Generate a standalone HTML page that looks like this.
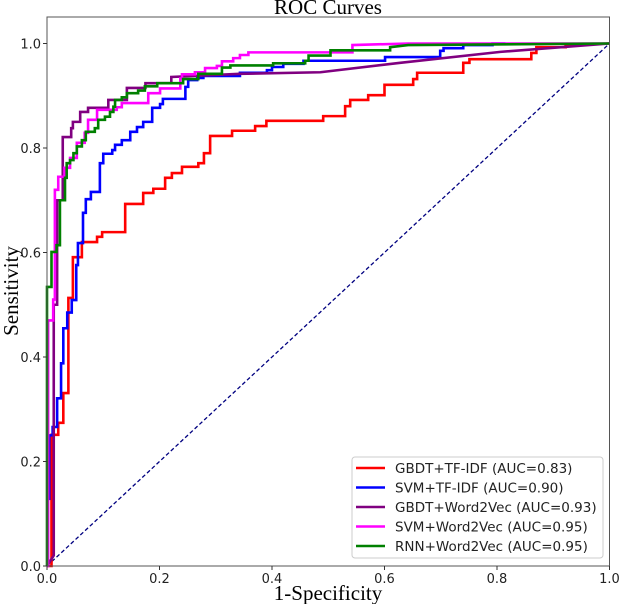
<!DOCTYPE html>
<html><head><meta charset="utf-8"><style>
body{margin:0;background:#fff;}
svg{display:block;}
</style></head><body>
<svg id="chart" width="619" height="604" xmlns="http://www.w3.org/2000/svg">
<g id="plot"></g>
</svg>
<script>
const xTicks=[0,0.2,0.4,0.6,0.8,1.0];
const yTicks=[0,0.2,0.4,0.6,0.8,1.0];
const seriesNames=["GBDT+TF-IDF (AUC=0.83)","SVM+TF-IDF (AUC=0.90)","GBDT+Word2Vec (AUC=0.93)","SVM+Word2Vec (AUC=0.95)","RNN+Word2Vec (AUC=0.95)"];
const seriesColors=["#ff0000","#0000ff","#800080","#ff00ff","#008000"];
const redFpr=[0,0.008,0.008,0.020,0.020,0.029,0.029,0.038,0.038,0.046,0.046,0.062,0.062,0.089,0.089,0.098,0.098,0.139,0.139,0.171,0.171,0.189,0.189,0.210,0.210,0.222,0.222,0.240,0.240,0.269,0.269,0.279,0.279,0.290,0.290,0.329,0.329,0.370,0.370,0.390,0.390,0.491,0.491,0.530,0.530,0.539,0.539,0.571,0.571,0.600,0.600,0.651,0.651,0.658,0.658,0.740,0.740,0.751,0.751,0.861,0.861,0.870,0.870,0.922,0.922,1];
const redTpr=[0,0,0.251,0.251,0.274,0.274,0.331,0.331,0.513,0.513,0.591,0.591,0.620,0.620,0.630,0.630,0.639,0.639,0.693,0.693,0.714,0.714,0.722,0.722,0.743,0.743,0.752,0.752,0.764,0.764,0.771,0.771,0.790,0.790,0.823,0.823,0.833,0.833,0.842,0.842,0.852,0.852,0.861,0.861,0.880,0.880,0.892,0.892,0.901,0.901,0.921,0.921,0.932,0.932,0.944,0.944,0.963,0.963,0.970,0.970,0.982,0.982,0.993,0.993,0.997,1];
const blueFpr=[0.004,0.004,0.010,0.010,0.018,0.018,0.025,0.025,0.029,0.029,0.036,0.036,0.044,0.044,0.052,0.052,0.055,0.055,0.064,0.064,0.069,0.069,0.078,0.078,0.094,0.094,0.100,0.100,0.116,0.116,0.121,0.121,0.133,0.133,0.148,0.148,0.160,0.160,0.171,0.171,0.187,0.187,0.201,0.201,0.206,0.206,0.246,0.246,0.251,0.251,0.267,0.267,0.278,0.278,0.343,0.343,0.391,0.391,0.400,0.400,0.420,0.420,0.456,0.456,0.601,0.601,0.699,0.699,0.705,0.705,0.740,0.740,0.792,0.792,0.815,1];
const blueTpr=[0.126,0.25,0.25,0.266,0.266,0.321,0.321,0.388,0.388,0.455,0.455,0.485,0.485,0.509,0.509,0.576,0.576,0.618,0.618,0.676,0.676,0.702,0.702,0.716,0.716,0.771,0.771,0.789,0.789,0.796,0.796,0.806,0.806,0.815,0.815,0.831,0.831,0.840,0.840,0.850,0.850,0.877,0.877,0.884,0.884,0.894,0.894,0.917,0.917,0.930,0.930,0.934,0.934,0.938,0.938,0.944,0.944,0.949,0.949,0.955,0.955,0.961,0.961,0.967,0.967,0.974,0.974,0.986,0.986,0.991,0.991,0.997,0.997,1,1];
const purpleFpr=[0,0.012,0.012,0.018,0.018,0.028,0.028,0.043,0.043,0.046,0.046,0.059,0.059,0.073,0.073,0.109,0.109,0.142,0.142,0.175,0.175,0.221,0.221,0.343,0.486,0.628,0.806,1];
const purpleTpr=[0,0.02,0.50,0.50,0.70,0.70,0.821,0.821,0.838,0.838,0.850,0.850,0.869,0.869,0.877,0.877,0.892,0.892,0.915,0.915,0.924,0.924,0.936,0.942,0.945,0.963,0.984,1];
const magentaFpr=[0,0.002,0.002,0.011,0.011,0.014,0.014,0.020,0.020,0.031,0.031,0.041,0.041,0.053,0.053,0.067,0.067,0.073,0.073,0.089,0.089,0.124,0.124,0.133,0.133,0.180,0.180,0.201,0.201,0.237,0.237,0.240,0.240,0.263,0.263,0.281,0.281,0.302,0.302,0.311,0.311,0.331,0.331,0.343,0.343,0.358,0.358,0.543,0.543,0.642,1];
const magentaTpr=[0,0,0.47,0.47,0.51,0.51,0.72,0.72,0.745,0.745,0.762,0.762,0.781,0.781,0.81,0.81,0.829,0.829,0.854,0.854,0.873,0.873,0.878,0.878,0.886,0.886,0.905,0.905,0.914,0.914,0.933,0.933,0.941,0.941,0.945,0.945,0.953,0.953,0.957,0.957,0.966,0.966,0.972,0.972,0.978,0.978,0.983,0.983,0.997,1,1];
const greenFpr=[0,0,0.008,0.008,0.017,0.017,0.023,0.023,0.032,0.032,0.035,0.035,0.041,0.041,0.047,0.047,0.053,0.053,0.062,0.062,0.069,0.069,0.085,0.085,0.091,0.091,0.103,0.103,0.112,0.112,0.118,0.118,0.121,0.121,0.133,0.133,0.142,0.142,0.162,0.162,0.174,0.174,0.196,0.196,0.242,0.242,0.269,0.269,0.311,0.311,0.326,0.326,0.402,0.402,0.459,0.459,0.465,0.465,0.504,0.504,0.610,0.610,0.642,1];
const greenTpr=[0,0.534,0.534,0.601,0.601,0.614,0.614,0.70,0.70,0.743,0.743,0.771,0.771,0.777,0.777,0.790,0.790,0.803,0.803,0.815,0.815,0.831,0.831,0.838,0.838,0.854,0.854,0.860,0.860,0.869,0.869,0.879,0.879,0.892,0.892,0.897,0.897,0.905,0.905,0.910,0.910,0.918,0.918,0.924,0.924,0.932,0.932,0.942,0.942,0.954,0.954,0.958,0.958,0.962,0.962,0.967,0.967,0.977,0.977,0.987,0.987,0.993,0.997,1];
const seriesFpr=[redFpr,blueFpr,purpleFpr,magentaFpr,greenFpr];
const seriesTpr=[redTpr,blueTpr,purpleTpr,magentaTpr,greenTpr];

const NS="http://www.w3.org/2000/svg";
const L=47,R=609.5,T=17,B=566,Y0=566,Y1=43.5;
function sx(v){return L+v*(R-L);}
function sy(v){return Y0-v*(Y0-Y1);}
const g=document.getElementById('plot');
function mk(tag,attrs,parent){const e=document.createElementNS(NS,tag);for(const k in attrs)e.setAttribute(k,attrs[k]);(parent||g).appendChild(e);return e;}

let diag=mk('line',{x1:sx(0),y1:sy(0),x2:sx(1),y2:sy(1),stroke:'#000080','stroke-width':1.3,'stroke-dasharray':'4,2.5'});



for(let s=0;s<seriesFpr.length;s++){
  const pts=seriesFpr[s].map((f,i)=>sx(f).toFixed(2)+','+sy(seriesTpr[s][i]).toFixed(2)).join(' ');
  const pl=mk('polyline',{points:pts,fill:'none',stroke:seriesColors[s],'stroke-width':2.6,'stroke-linejoin':'miter'});
  
  
}

const fr=mk('rect',{x:L,y:T,width:R-L,height:B-T,fill:'none',stroke:'#555','stroke-width':1});



const font='"DejaVu Sans","Liberation Sans",sans-serif';
xTicks.forEach(v=>{
  mk('line',{x1:sx(v),y1:B,x2:sx(v),y2:B+4,stroke:'#333','stroke-width':1});
  const t=mk('text',{x:sx(v),y:B+17,'font-family':font,'font-size':13,'text-anchor':'middle',fill:'#222'});
  t.textContent=v.toFixed(1);
  
  
});
yTicks.forEach(v=>{
  mk('line',{x1:L-4,y1:sy(v),x2:L,y2:sy(v),stroke:'#333','stroke-width':1});
  const t=mk('text',{x:L-6,y:sy(v)+5,'font-family':font,'font-size':13,'text-anchor':'end',fill:'#222'});
  t.textContent=v.toFixed(1);
  
  
});

const serif='"Liberation Serif","DejaVu Serif",serif';
const title=mk('text',{x:328,y:14,'font-family':serif,'font-size':21,'text-anchor':'middle',fill:'#000'});
title.textContent='ROC Curves';


const xl=mk('text',{x:328,y:600,'font-family':serif,'font-size':21,'text-anchor':'middle',fill:'#000'});
xl.textContent='1-Specificity';


const yl=mk('text',{x:0,y:0,'font-family':serif,'font-size':21,'text-anchor':'middle',fill:'#000',transform:'translate(18,291) rotate(-90)'});
yl.textContent='Sensitivity';



const lg=mk('g',{});


mk('rect',{x:352,y:457,width:251,height:101,rx:3,fill:'#fff','fill-opacity':0.85,stroke:'#ccc','stroke-width':1},lg);
seriesNames.forEach((n,i)=>{
  const yy=468+i*19.5;
  const e=mk('g',{},lg);
  
  
  mk('line',{x1:356,y1:yy,x2:385,y2:yy,stroke:seriesColors[i],'stroke-width':2.6},e);
  const t=mk('text',{x:395,y:yy+5,'font-family':font,'font-size':13.5,fill:'#222'},e);
  t.textContent=n;
});
</script>
</body></html>
